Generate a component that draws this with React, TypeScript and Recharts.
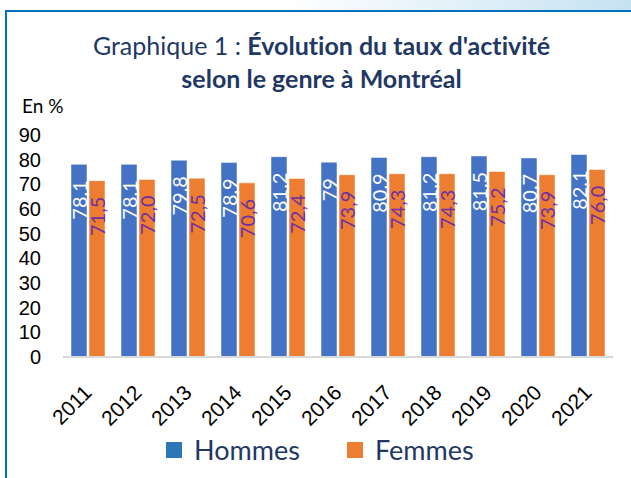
import { Bar, BarChart, LabelList, XAxis, YAxis } from 'recharts';

const years = ['2011', '2012', '2013', '2014', '2015', '2016', '2017', '2018', '2019', '2020', '2021'];
const hommes = [78.1, 78.1, 79.8, 78.9, 81.2, 79, 80.9, 81.2, 81.5, 80.7, 82.1];
const femmes = [71.5, 72.0, 72.5, 70.6, 72.4, 73.9, 74.3, 74.3, 75.2, 73.9, 76.0];
const yTicks = [0, 10, 20, 30, 40, 50, 60, 70, 80, 90];

const data = years.map((year, i) => ({ year, hommes: hommes[i], femmes: femmes[i] }));

const navy = '#1F3864';
const blue = '#4472C4';
const orange = '#ED7D31';

const makeLabel = (fill: string, fmt: (v: number) => string) => (props: any) => {
  const { x, y, width, value } = props;
  const cx = x + width / 2;
  const ty = y + 16;
  return (
    <text
      x={cx}
      y={ty}
      transform={`rotate(-90 ${cx} ${ty})`}
      textAnchor='end'
      dominantBaseline='central'
      fill={fill}
      style={{ fontFamily: 'Lato', fontSize: 20 }}>
      {fmt(value)}
    </text>
  );
};

const YTick = ({ y, payload }: any) => (
  <text
    x={41}
    y={y}
    textAnchor='end'
    dominantBaseline='central'
    fill='#000'
    style={{ fontFamily: 'Liberation Sans', fontSize: 20 }}>
    {payload.value}
  </text>
);

const XTick = ({ x, y, payload }: any) => {
  const tx = x + 5;
  const ty = y + 29;
  return (
    <text
      x={tx}
      y={ty}
      transform={`rotate(-45 ${tx} ${ty})`}
      textAnchor='end'
      fill='#000'
      style={{ fontFamily: 'Liberation Sans', fontSize: 21 }}>
      {payload.value}
    </text>
  );
};

export default function App() {
  return (
    <div
      style={{
        position: 'absolute',
        left: 0,
        top: 0,
        width: 631,
        height: 478,
        background: '#fff',
        overflow: 'hidden',
        fontVariantLigatures: 'none',
      }}>
      <div
        style={{
          position: 'absolute',
          left: 0,
          top: 0,
          width: 631,
          height: 10,
          background: 'linear-gradient(to right, #ffffff 45%, #c6e2f2 100%)',
        }}
      />
      <div
        style={{
          position: 'absolute',
          left: 5,
          top: 10,
          width: 626,
          height: 468,
          borderLeft: '2px solid #0070C0',
          borderTop: '2px solid #0070C0',
          boxSizing: 'border-box',
        }}
      />
      <div
        style={{
          position: 'absolute',
          left: 10,
          top: 29,
          width: 623,
          textAlign: 'center',
          color: navy,
          fontFamily: 'Lato',
          fontSize: 25,
          lineHeight: '33px',
        }}>
        <div>
          Graphique 1 : <b>Évolution du taux d'activité</b>
        </div>
        <div>
          <b>selon le genre à Montréal</b>
        </div>
      </div>
      <div
        style={{
          position: 'absolute',
          left: 22,
          top: 94,
          fontFamily: 'Lato',
          fontSize: 19,
          color: '#000',
        }}>
        En %
      </div>
      <div style={{ position: 'absolute', left: 0, top: 0 }}>
        <BarChart
          width={631}
          height={478}
          data={data}
          margin={{ top: 135, right: 18, bottom: 91, left: 0 }}
          barGap={2}
          barSize={16}>
          <YAxis
            width={63}
            domain={[0, 90]}
            ticks={yTicks}
            interval={0}
            axisLine={false}
            tickLine={false}
            tick={<YTick />}
          />
          <XAxis
            dataKey='year'
            height={30}
            interval={0}
            tickLine={false}
            axisLine={{ stroke: '#d9d9d9', strokeWidth: 2 }}
            tick={<XTick />}
          />
          <Bar
            dataKey='hommes'
            fill={blue}
            stroke='#ffffff'
            strokeOpacity={0.5}
            isAnimationActive={false}>
            <LabelList
              dataKey='hommes'
              content={makeLabel('#ffffff', (v) => String(v).replace('.', ','))}
            />
          </Bar>
          <Bar
            dataKey='femmes'
            fill={orange}
            stroke='#ffffff'
            strokeOpacity={0.5}
            isAnimationActive={false}>
            <LabelList
              dataKey='femmes'
              content={makeLabel('#7030A0', (v) => v.toFixed(1).replace('.', ','))}
            />
          </Bar>
        </BarChart>
      </div>
      <div
        style={{
          position: 'absolute',
          left: 166,
          top: 433,
          display: 'flex',
          alignItems: 'center',
          fontFamily: 'Lato',
          fontSize: 27,
          color: navy,
        }}>
        <span style={{ width: 16, height: 16, background: '#2E75B6', marginRight: 12 }} />
        <span style={{ marginRight: 47 }}>Hommes</span>
        <span style={{ width: 16, height: 16, background: orange, marginRight: 12 }} />
        <span>Femmes</span>
      </div>
    </div>
  );
}
